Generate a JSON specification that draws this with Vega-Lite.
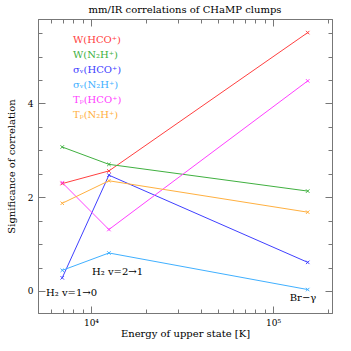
{
  "$schema": "https://vega.github.io/schema/vega-lite/v6.json",
  "width": 294,
  "height": 294,
  "autosize": "none",
  "padding": {"left": 38, "top": 19, "right": 19, "bottom": 38},
  "background": "white",
  "title": {"text": "mm/IR correlations of CHaMP clumps", "font": "DejaVu Serif", "fontSize": 10, "fontWeight": "normal", "offset": 4, "color": "black"},
  "config": {
    "view": {"stroke": null},
    "axis": {"domainColor": "#777777", "tickColor": "#777777", "labelFont": "DejaVu Serif", "labelFontSize": 9, "labelColor": "black", "titleFont": "DejaVu Serif", "titleFontSize": 10, "titleFontWeight": "normal", "titleColor": "black", "grid": false, "labelOverlap": false, "labelFlush": false}
  },
  "datasets": {
    "series": [
      {"series": "W(HCO⁺)", "E": 6956, "sig": 2.29},
      {"series": "W(HCO⁺)", "E": 12550, "sig": 2.56},
      {"series": "W(HCO⁺)", "E": 155000, "sig": 5.51},
      {"series": "W(N₂H⁺)", "E": 6956, "sig": 3.07},
      {"series": "W(N₂H⁺)", "E": 12550, "sig": 2.70},
      {"series": "W(N₂H⁺)", "E": 155000, "sig": 2.13},
      {"series": "σᵥ(HCO⁺)", "E": 6956, "sig": 0.28},
      {"series": "σᵥ(HCO⁺)", "E": 12550, "sig": 2.47},
      {"series": "σᵥ(HCO⁺)", "E": 155000, "sig": 0.61},
      {"series": "σᵥ(N₂H⁺)", "E": 6956, "sig": 0.44},
      {"series": "σᵥ(N₂H⁺)", "E": 12550, "sig": 0.81},
      {"series": "σᵥ(N₂H⁺)", "E": 155000, "sig": 0.03},
      {"series": "Tₚ(HCO⁺)", "E": 6956, "sig": 2.31},
      {"series": "Tₚ(HCO⁺)", "E": 12550, "sig": 1.31},
      {"series": "Tₚ(HCO⁺)", "E": 155000, "sig": 4.48},
      {"series": "Tₚ(N₂H⁺)", "E": 6956, "sig": 1.87},
      {"series": "Tₚ(N₂H⁺)", "E": 12550, "sig": 2.35},
      {"series": "Tₚ(N₂H⁺)", "E": 155000, "sig": 1.68}
    ],
    "notes": [
      {"label": "H₂ v=1→0", "E": 5665, "sig": -0.04},
      {"label": "H₂ v=2→1", "E": 10130, "sig": 0.40},
      {"label": "Br−γ", "E": 123500, "sig": -0.15}
    ]
  },
  "layer": [
    {
      "data": {"name": "series"},
      "mark": {"type": "line", "strokeWidth": 1, "point": {"shape": "M-1,-1L1,1M1,-1L-1,1", "filled": false, "size": 12, "strokeWidth": 1}},
      "encoding": {
        "x": {"field": "E", "type": "quantitative", "scale": {"type": "log", "domain": [5120, 210700], "nice": false},
          "axis": {"orient": "bottom", "values": [10000, 100000], "tickSize": -7,
            "labelExpr": "datum.value == 10000 ? '10⁴' : '10⁵'",
            "title": "Energy of upper state [K]", "labelPadding": 12, "titlePadding": 1}},
        "y": {"field": "sig", "type": "quantitative", "scale": {"domain": [-0.47, 5.8], "nice": false, "zero": false},
          "axis": {"orient": "left", "values": [0, 2, 4], "tickSize": -7,
            "labelExpr": "format(datum.value, 'd')",
            "title": "Significance of correlation", "labelPadding": 12, "titlePadding": 11}},
        "color": {"field": "series", "type": "nominal",
          "scale": {"domain": ["W(HCO⁺)", "W(N₂H⁺)", "σᵥ(HCO⁺)", "σᵥ(N₂H⁺)", "Tₚ(HCO⁺)", "Tₚ(N₂H⁺)"], "range": ["#ff4040", "#40b040", "#4040ff", "#40b0ff", "#ff40ff", "#ffb040"]},
          "legend": {"orient": "none", "legendX": 25, "legendY": 16, "title": null, "symbolSize": 0, "symbolStrokeWidth": 0, "symbolOpacity": 0, "labelOffset": 0, "labelFont": "DejaVu Serif", "labelFontSize": 10, "rowPadding": 5, "padding": 0, "labelLimit": 200,
            "encode": {"labels": {"update": {"fill": {"scale": "color", "field": "value"}}}}}}
      }
    },
    {
      "data": {"name": "notes"},
      "mark": {"type": "text", "align": "left", "baseline": "middle", "font": "DejaVu Serif", "fontSize": 10, "color": "black"},
      "encoding": {
        "x": {"field": "E", "type": "quantitative", "scale": {"type": "log", "domain": [5120, 210700], "nice": false},
          "axis": {"orient": "top", "values": [10000, 100000], "tickSize": -7, "labels": false, "title": null}},
        "y": {"field": "sig", "type": "quantitative", "scale": {"domain": [-0.47, 5.8], "nice": false, "zero": false},
          "axis": {"orient": "right", "values": [0, 2, 4], "tickSize": -7, "labels": false, "title": null}},
        "text": {"field": "label"}
      }
    },
    {
      "data": {"name": "notes"},
      "mark": {"type": "text", "opacity": 0},
      "encoding": {
        "x": {"field": "E", "type": "quantitative", "scale": {"type": "log", "domain": [5120, 210700], "nice": false},
          "axis": {"orient": "bottom", "values": [6000, 7000, 8000, 9000, 20000, 30000, 40000, 50000, 60000, 70000, 80000, 90000, 200000], "tickSize": -4, "labels": false, "title": null}},
        "y": {"field": "sig", "type": "quantitative", "scale": {"domain": [-0.47, 5.8], "nice": false, "zero": false},
          "axis": {"orient": "left", "values": [-0.5, 0.5, 1, 1.5, 2.5, 3, 3.5, 4.5, 5, 5.5], "tickSize": -4, "labels": false, "title": null}},
        "text": {"field": "label"}
      }
    },
    {
      "data": {"name": "notes"},
      "mark": {"type": "text", "opacity": 0},
      "encoding": {
        "x": {"field": "E", "type": "quantitative", "scale": {"type": "log", "domain": [5120, 210700], "nice": false},
          "axis": {"orient": "top", "values": [6000, 7000, 8000, 9000, 20000, 30000, 40000, 50000, 60000, 70000, 80000, 90000, 200000], "tickSize": -4, "labels": false, "title": null}},
        "y": {"field": "sig", "type": "quantitative", "scale": {"domain": [-0.47, 5.8], "nice": false, "zero": false},
          "axis": {"orient": "right", "values": [-0.5, 0.5, 1, 1.5, 2.5, 3, 3.5, 4.5, 5, 5.5], "tickSize": -4, "labels": false, "title": null}},
        "text": {"field": "label"}
      }
    }
  ],
  "resolve": {"axis": {"x": "independent", "y": "independent"}}
}
